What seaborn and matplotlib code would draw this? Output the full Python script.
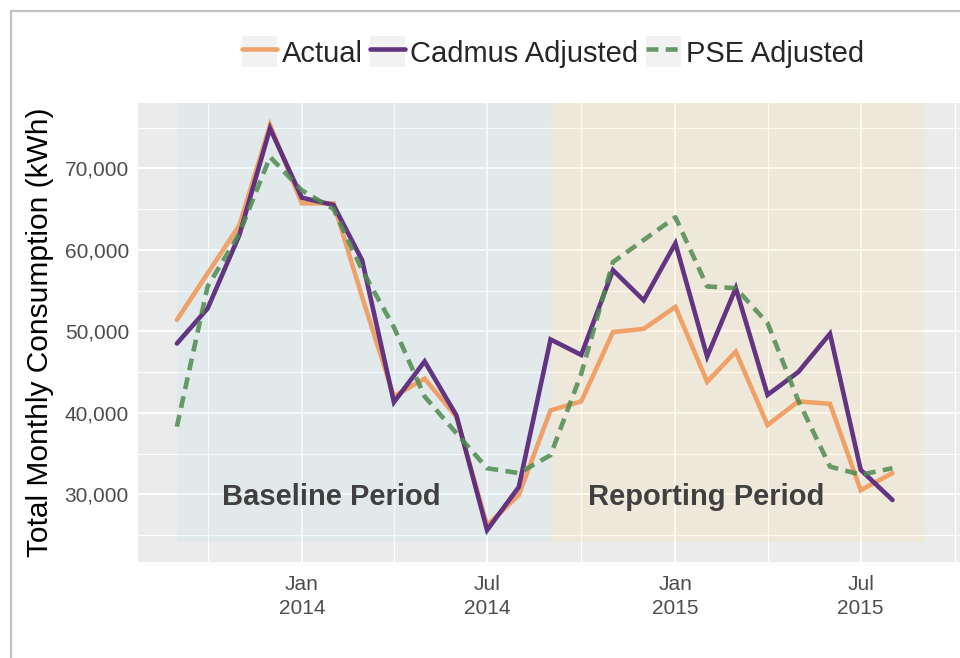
import matplotlib
matplotlib.use("Agg")
import matplotlib.pyplot as plt
import matplotlib.dates as mdates
import matplotlib.ticker as mticker
from matplotlib.patches import Rectangle
from matplotlib.lines import Line2D
from matplotlib.legend_handler import HandlerTuple
import numpy as np
import pandas as pd
import seaborn as sns

# ---------------- data ----------------
months = ["2013-09-01", "2013-10-01", "2013-11-01", "2013-12-01",
          "2014-01-01", "2014-02-01", "2014-03-01", "2014-04-01",
          "2014-05-01", "2014-06-01", "2014-07-01", "2014-08-01",
          "2014-09-01", "2014-10-01", "2014-11-01", "2014-12-01",
          "2015-01-01", "2015-02-01", "2015-03-01", "2015-04-01",
          "2015-05-01", "2015-06-01", "2015-07-01", "2015-08-01"]
actual = [51400, 57100, 63000, 75300, 65700, 65700, 54200, 42000,
          44200, 39500, 26200, 29900, 40300, 41400, 49900, 50300,
          53000, 43800, 47500, 38500, 41400, 41100, 30500, 32600]
cadmus = [48500, 52800, 61800, 74900, 66400, 65500, 58700, 41300,
          46300, 39700, 25600, 30900, 49000, 47100, 57500, 53800,
          60800, 46900, 55300, 42200, 45000, 49700, 33000, 29300]
pse = [38300, 55500, 62000, 71400, 67300, 65000, 57500, 50500,
       42000, 37500, 33200, 32600, 34800, 44800, 58500, 61200,
       64000, 55500, 55300, 51000, 41500, 33400, 32400, 33200]
series_names = ["Actual", "Cadmus Adjusted", "PSE Adjusted"]

period_labels = ["Baseline Period", "Reporting Period"]
period_starts = ["2013-09-01", "2014-09-01"]
period_ends = ["2014-09-01", "2015-09-01"]
period_label_x = ["2014-01-30", "2015-01-31"]
period_label_y = 29700
period_floor = 24200

y_ticks = [30000, 40000, 50000, 60000, 70000]
y_minor = [25000, 35000, 45000, 55000, 65000, 75000]
x_ticks = ["2014-01-01", "2014-07-01", "2015-01-01", "2015-07-01"]
x_tick_labels = ["Jan\n2014", "Jul\n2014", "Jan\n2015", "Jul\n2015"]
x_minor = ["2013-10-01", "2014-04-01", "2014-10-01", "2015-04-01", "2015-10-01"]
x_limits = ["2013-07-25", "2015-10-06"]
y_limits = [21693, 78012]

# ---------------- style ----------------
colors = {"Actual": "#F09A5C", "Cadmus Adjusted": "#5B2A7C", "PSE Adjusted": "#4F8A50"}
alphas = {"Actual": 0.9, "Cadmus Adjusted": 0.95, "PSE Adjusted": 0.85}
dashes = {"Actual": "", "Cadmus Adjusted": "", "PSE Adjusted": (2.6, 1.6)}
period_colors = ["#B9E1F0", "#FFDC9B"]
LW = 3.3

sns.set_style("darkgrid", {"axes.facecolor": "#EBEBEB", "grid.color": "white"})
plt.rcParams["font.family"] = ["Liberation Sans", "DejaVu Sans"]

df = pd.DataFrame({
    "date": pd.to_datetime(months * 3),
    "kwh": actual + cadmus + pse,
    "series": np.repeat(series_names, len(months)),
})

fig = plt.figure(figsize=(9.6, 6.58), dpi=100)
W, H = 960, 658
ax = fig.add_axes([138 / W, (H - 562) / H, (W - 138) / W, (562 - 103) / H])

# shaded periods
for s, e, c in zip(period_starts, period_ends, period_colors):
    ax.fill_between(pd.to_datetime([s, e]), period_floor, 1e7,
                    color=c, alpha=0.2, lw=0, zorder=0.8)

sns.lineplot(data=df, x="date", y="kwh", hue="series", style="series",
             palette=colors, dashes=dashes, linewidth=LW, ax=ax,
             legend=False, hue_order=series_names, style_order=series_names)
for line, name in zip(ax.lines, series_names):
    line.set_alpha(alphas[name])
    line.set_solid_joinstyle("miter")
    line.set_zorder(2)

for lab, xd in zip(period_labels, period_label_x):
    ax.text(pd.Timestamp(xd), period_label_y, lab, ha="center", va="center",
            fontsize=21, fontweight="bold", color="#404040", zorder=3)

ax.set_xlim(pd.to_datetime(x_limits))
ax.set_ylim(y_limits)
ax.set_xticks(pd.to_datetime(x_ticks))
ax.set_xticklabels(x_tick_labels)
ax.set_xticks(pd.to_datetime(x_minor), minor=True)
ax.set_yticks(y_ticks)
ax.set_yticks(y_minor, minor=True)
ax.yaxis.set_major_formatter(mticker.FuncFormatter(lambda v, p: f"{int(v):,}"))

ax.grid(True, which="major", color="white", lw=1.4)
ax.grid(True, which="minor", color="white", lw=0.9)
ax.set_axisbelow(True)
for sp in ax.spines.values():
    sp.set_visible(False)

ax.tick_params(axis="both", which="major", length=3.5, width=1.1, color="#333333",
               labelsize=15, labelcolor="#4D4D4D", pad=3)
ax.tick_params(axis="x", which="major", pad=6)
ax.tick_params(axis="both", which="minor", length=0)
for t in ax.get_xticklabels():
    t.set_linespacing(1.3)

ax.set_xlabel("")
ax.set_ylabel("Total Monthly Consumption (kWh)", fontsize=21.5, color="black", labelpad=8)

# legend
handles = []
for name in series_names:
    box = Rectangle((0, 0), 1, 1, fc="#F2F2F2", ec="none")
    ln = Line2D([], [], color=colors[name], lw=LW, alpha=alphas[name])
    if dashes[name]:
        ln.set_dashes(dashes[name])
    handles.append((box, ln))
fig.legend(handles, series_names, loc="center", bbox_to_anchor=(553 / W, 1 - 52 / H),
           ncol=3, frameon=False, fontsize=21, handlelength=1.2, handleheight=1.25,
           handletextpad=0.18, columnspacing=0.25, borderpad=0, borderaxespad=0,
           handler_map={tuple: HandlerTuple(ndivide=1, pad=0)})

# screenshot frame
fig.add_artist(Line2D([10.5 / W, 10.5 / W], [0, 1 - 10.5 / H], color="#C3C3C3", lw=1.6,
                      transform=fig.transFigure))
fig.add_artist(Line2D([10.5 / W, 1], [1 - 10.5 / H, 1 - 10.5 / H], color="#C3C3C3", lw=1.6,
                      transform=fig.transFigure))

fig.savefig("out.png", dpi=100, facecolor="white")
